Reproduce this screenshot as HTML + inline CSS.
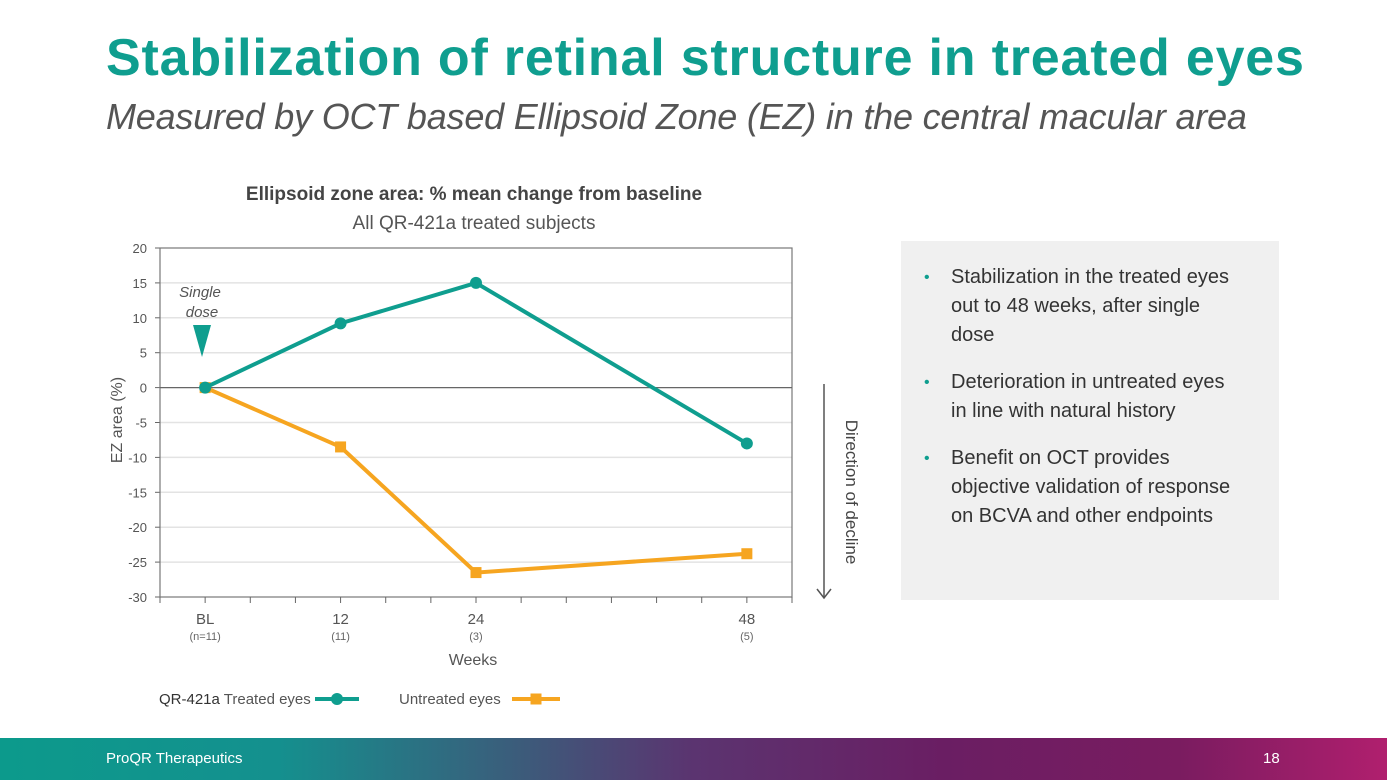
<!DOCTYPE html>
<html><head><meta charset="utf-8"><style>
body{margin:0;width:1387px;height:780px;position:relative;overflow:hidden;background:#fff;font-family:"Liberation Sans",sans-serif;}
.abs{position:absolute;}
#title{left:106px;top:28px;font-size:52px;font-weight:bold;color:#0f9e8f;letter-spacing:0.8px;white-space:nowrap;}
#sub{left:106px;top:96px;font-size:36px;font-style:italic;color:#555;white-space:nowrap;letter-spacing:-0.2px;}
#box{left:901px;top:241px;width:378px;height:359px;background:#f0f0f0;}
#box ul{margin:0;padding:22px 40px 0 50px;list-style:none;font-size:20px;line-height:29px;color:#333;}
#box li{position:relative;margin-bottom:18px;}
#box li:before{content:"•";color:#0f9e8f;position:absolute;left:-27px;font-size:16px;}
#footer{left:0;top:738px;width:1387px;height:42px;background:linear-gradient(90deg,#0c9a8c 0%,#14908e 20%,#3d5a7a 38%,#5b3470 50%,#6a1e63 68%,#7a1c60 85%,#b01f6e 100%);}
</style></head><body>
<div id="title" class="abs">Stabilization of retinal structure in treated eyes</div>
<div id="sub" class="abs">Measured by OCT based Ellipsoid Zone (EZ) in the central macular area</div>
<svg class="abs" style="left:0;top:0" width="900" height="730" id="chart"></svg>
<div id="box" class="abs"><ul>
<li>Stabilization in the treated eyes out to 48 weeks, after single dose</li>
<li>Deterioration in untreated eyes in line with natural history</li>
<li>Benefit on OCT provides objective validation of response on BCVA and other endpoints</li></ul></div>
<div id="footer" class="abs">
<span class="abs" style="left:106px;top:12px;color:#fff;font-size:15px">ProQR Therapeutics</span>
<span class="abs" style="left:1263px;top:12px;color:#fff;font-size:15px">18</span></div>
<script>
const weeks=[0,12,24,48];
const catLabels=["BL","12","24","48"];
const nLabels=["(n=11)","(11)","(3)","(5)"];
const treated=[0,9.2,15,-8];
const untreated=[0,-8.5,-26.5,-23.8];
const yTicks=[20,15,10,5,0,-5,-10,-15,-20,-25,-30];
const X0=160,X1=792,Y0=248,Y1=597;
const xs=w=>X0+(w+4)/56*(X1-X0);
const ys=v=>Y0+(20-v)/50*(Y1-Y0);
const svg=document.getElementById('chart');const NS="http://www.w3.org/2000/svg";
function mk(t,a,txt){const e=document.createElementNS(NS,t);for(const k in a)e.setAttribute(k,a[k]);if(txt!=null)e.textContent=txt;svg.appendChild(e);return e;}
let e;
e=mk('text',{x:474,y:200,'text-anchor':'middle','font-size':19,'font-weight':'bold',fill:'#444'},'Ellipsoid zone area: % mean change from baseline');

e=mk('text',{x:474,y:229,'text-anchor':'middle','font-size':19,fill:'#555'},'All QR-421a treated subjects');

yTicks.forEach(v=>{
 if(v!==20&&v!==-30&&v!==0){e=mk('line',{x1:X0,x2:X1,y1:ys(v),y2:ys(v),stroke:'#e3e3e3','stroke-width':1.5});}
 e=mk('line',{x1:X0-5,x2:X0,y1:ys(v),y2:ys(v),stroke:'#666'});
 e=mk('text',{x:X0-13,y:ys(v)+5,'text-anchor':'end','font-size':13,fill:'#555'},String(v));
});
e=mk('rect',{x:X0,y:Y0,width:X1-X0,height:Y1-Y0,fill:'none',stroke:'#777','stroke-width':1.2});
e=mk('line',{x1:X0,x2:X1,y1:ys(0),y2:ys(0),stroke:'#666','stroke-width':1.2});
for(let w=-4;w<=52;w+=4){e=mk('line',{x1:xs(w),x2:xs(w),y1:Y1,y2:Y1+6,stroke:'#666'});}
weeks.forEach((w,i)=>{
 e=mk('text',{x:xs(w),y:624,'text-anchor':'middle','font-size':15,fill:'#555'},catLabels[i]);
 e=mk('text',{x:xs(w),y:640,'text-anchor':'middle','font-size':11,fill:'#666'},nLabels[i]);
});
e=mk('text',{x:473,y:665,'text-anchor':'middle','font-size':16,fill:'#555'},'Weeks');
e=mk('text',{x:0,y:0,'text-anchor':'middle','font-size':16,fill:'#555',transform:'translate(122,420) rotate(-90)'},'EZ area (%)');
function series(vals,col,name,marker){
 const pts=weeks.map((w,i)=>xs(w)+','+ys(vals[i])).join(' ');
 e=mk('polyline',{points:pts,fill:'none',stroke:col,'stroke-width':4});
 weeks.forEach((w,i)=>{
  if(marker==='c')e=mk('circle',{cx:xs(w),cy:ys(vals[i]),r:6,fill:col});
  else e=mk('rect',{x:xs(w)-5.5,y:ys(vals[i])-5.5,width:11,height:11,fill:col});
  
 });
}
series(untreated,'#f6a520','untreated','s');
series(treated,'#0f9e8f','treated','c');
e=mk('text',{x:200,y:297,'text-anchor':'middle','font-size':15,'font-style':'italic',fill:'#555'},'Single');
e=mk('text',{x:202,y:317,'text-anchor':'middle','font-size':15,'font-style':'italic',fill:'#555'},'dose');
e=mk('polygon',{points:'193,325 211,325 202,357',fill:'#0f9e8f'});
e=mk('line',{x1:824,x2:824,y1:384,y2:598,stroke:'#555','stroke-width':1.5});
e=mk('polyline',{points:'817,589 824,598 831,589',fill:'none',stroke:'#555','stroke-width':1.5});
e=mk('text',{x:0,y:0,'text-anchor':'middle','font-size':17,fill:'#444',transform:'translate(846,492) rotate(90)'},'Direction of decline');
e=mk('text',{x:159,y:704,'font-size':15,fill:'#555'},'');e.innerHTML='<tspan fill="#333">QR-421a</tspan> Treated eyes';
e=mk('line',{x1:315,x2:359,y1:699,y2:699,stroke:'#0f9e8f','stroke-width':4});
e=mk('circle',{cx:337,cy:699,r:6,fill:'#0f9e8f'});
e=mk('text',{x:399,y:704,'font-size':15,fill:'#555'},'Untreated eyes');
e=mk('line',{x1:512,x2:560,y1:699,y2:699,stroke:'#f6a520','stroke-width':4});
e=mk('rect',{x:530.5,y:693.5,width:11,height:11,fill:'#f6a520'});
</script>
</body></html>
